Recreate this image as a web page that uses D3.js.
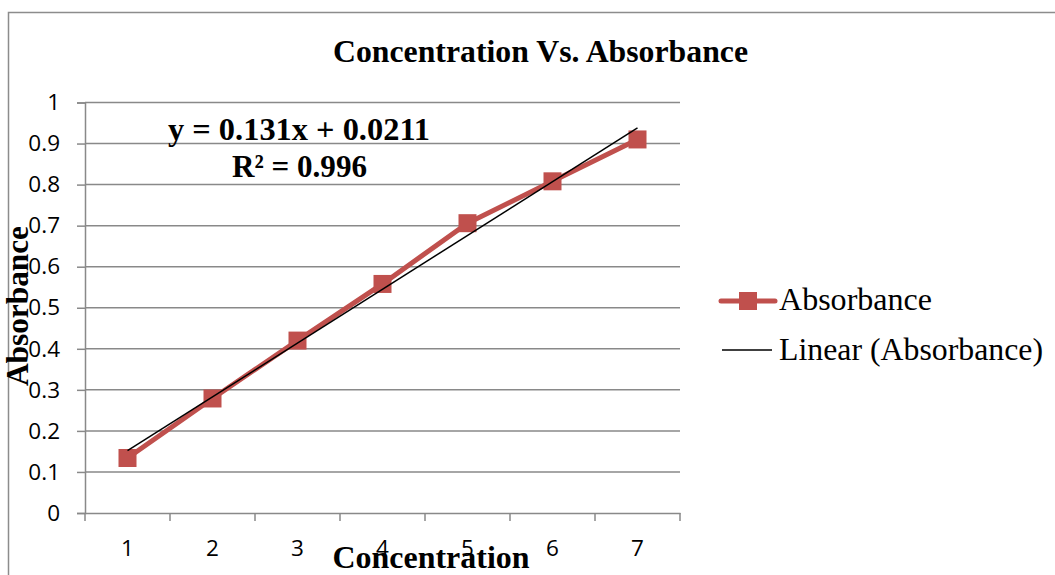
<!DOCTYPE html>
<html><head><meta charset="utf-8">
<script src="https://cdn.jsdelivr.net/npm/d3@7"></script>
<style>body{margin:0;background:#fff}svg{display:block}</style>
</head><body>
<svg id="c" width="1055" height="575"></svg>
<script>
const categories = [1, 2, 3, 4, 5, 6, 7];
const absorbance = [0.134, 0.279, 0.420, 0.558, 0.706, 0.808, 0.910];
const yTicks = [0, 0.1, 0.2, 0.3, 0.4, 0.5, 0.6, 0.7, 0.8, 0.9, 1];
const trendSlope = 0.131, trendIntercept = 0.0211;
const trendR2 = 0.996;

const svg = d3.select("#c");
const L = 85, R = 680, T = 102.5, B = 513;
const x = d3.scaleBand().domain(categories).range([L, R]);
const y = d3.scaleLinear().domain([0, 1]).range([B, T]);
const grid = "#898989", red = "#C0504D";
const sans = "'Open Sans', sans-serif";
const serif = "'Liberation Serif', 'Times New Roman', serif";

// outer border
svg.append("path").attr("d", "M8.5,575 V12.5 H1055").attr("fill", "none").attr("stroke", "#8c8c8c").attr("stroke-width", 1.5);

// gridlines
svg.append("g").selectAll("line").data(yTicks.slice(1)).join("line")
  .attr("x1", L).attr("x2", R).attr("y1", d => y(d)).attr("y2", d => y(d))
  .attr("stroke", grid).attr("stroke-width", 1.5);

// y axis
const ya = svg.append("g").attr("transform", `translate(${L},0)`)
  .call(d3.axisLeft(y).tickValues(yTicks).tickFormat(d3.format("~g")).tickSize(8).tickPadding(17));
ya.select(".domain").attr("stroke", grid).attr("stroke-width", 1.5);
ya.selectAll(".tick line").attr("stroke", grid).attr("stroke-width", 1.5);
ya.selectAll("text").attr("font-family", sans).attr("font-size", 22.5).attr("fill", "#000");

// x axis
const xa = svg.append("g").attr("transform", `translate(0,${B})`)
  .call(d3.axisBottom(x).tickSize(0).tickPadding(27));
xa.select(".domain").attr("stroke", grid).attr("stroke-width", 1.5);
xa.selectAll("text").attr("font-family", sans).attr("font-size", 22.5).attr("fill", "#000");
const bounds = categories.map(c => x(c)).concat([R]);
svg.append("g").selectAll("line").data(bounds).join("line")
  .attr("x1", d => d).attr("x2", d => d).attr("y1", B).attr("y2", B + 8)
  .attr("stroke", grid).attr("stroke-width", 1.5);

const cx = c => x(c) + x.bandwidth() / 2;

// series line
svg.append("path").datum(categories.map((c, i) => [cx(c), y(absorbance[i])]))
  .attr("d", d3.line()).attr("fill", "none").attr("stroke", red).attr("stroke-width", 5).attr("stroke-linejoin", "round");
// markers
svg.append("g").selectAll("rect").data(categories).join("rect")
  .attr("x", c => cx(c) - 9).attr("y", (c, i) => y(absorbance[i]) - 9).attr("width", 18).attr("height", 18).attr("fill", red);

// trendline
const x0 = categories[0], x1 = categories[categories.length - 1];
svg.append("line")
  .attr("x1", cx(x0)).attr("y1", y(trendSlope * x0 + trendIntercept))
  .attr("x2", cx(x1)).attr("y2", y(trendSlope * x1 + trendIntercept))
  .attr("stroke", "#000").attr("stroke-width", 1.5);

function txt(xp, yp, s, opts) {
  const t = svg.append("text").attr("x", xp).attr("y", yp)
    .attr("text-anchor", opts.anchor || "middle")
    .attr("font-family", serif).attr("font-size", opts.size || 32)
    .attr("font-weight", opts.weight || "bold").text(s);
  if (opts.len) t.attr("textLength", opts.len).attr("lengthAdjust", "spacingAndGlyphs");
  if (opts.transform) t.attr("transform", opts.transform);
  return t;
}
txt(540.5, 62, "Concentration Vs. Absorbance", {len: 415});
txt(299, 140, `y = ${trendSlope}x + ${trendIntercept}`, {len: 262});
txt(299.5, 177, `R² = ${trendR2}`, {len: 135});
txt(0, 0, "Absorbance", {len: 160, transform: "translate(28,306) rotate(-90)"});
txt(431, 568, "Concentration", {len: 197});

// legend
const lg = svg.append("g");
lg.append("line").attr("x1", 721).attr("x2", 775).attr("y1", 301).attr("y2", 301)
  .attr("stroke", red).attr("stroke-width", 5).attr("stroke-linecap", "round");
lg.append("rect").attr("x", 739).attr("y", 292).attr("width", 18).attr("height", 18).attr("fill", red);
txt(779, 310, "Absorbance", {anchor: "start", weight: "normal", size: 31, len: 153});
lg.append("line").attr("x1", 722).attr("x2", 772).attr("y1", 350).attr("y2", 350)
  .attr("stroke", "#000").attr("stroke-width", 1.5);
txt(779, 360, "Linear (Absorbance)", {anchor: "start", weight: "normal", size: 31, len: 264});
</script>
</body></html>
